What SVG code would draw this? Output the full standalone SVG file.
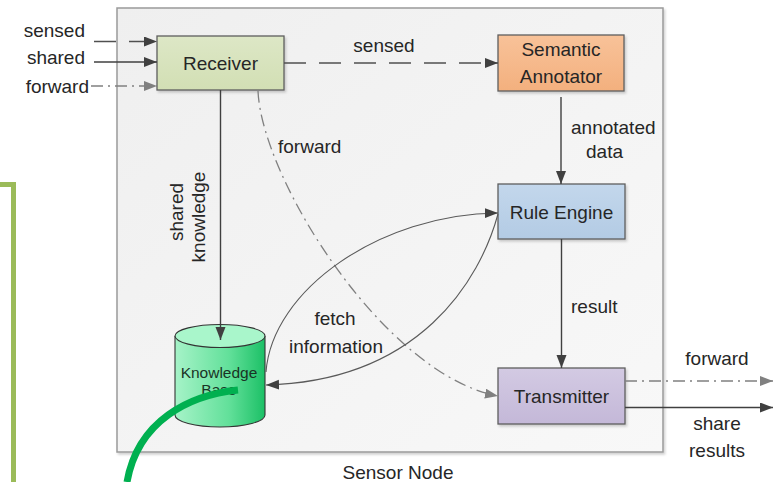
<svg xmlns="http://www.w3.org/2000/svg" width="773" height="482" viewBox="0 0 773 482">
  <defs>
    <style>
      .lbl { font-family: "Liberation Sans", Arial, sans-serif; font-size: 19px; fill: #262626; }
      .box { stroke: #5f5f5f; stroke-width: 1.3; }
      .btxt { font-family: "Liberation Sans", Arial, sans-serif; font-size: 19px; fill: #262626; text-anchor: middle; }
      .solid { fill: none; stroke: #404040; stroke-width: 1.4; }
      .dash { fill: none; stroke: #505050; stroke-width: 1.4; stroke-dasharray: 22 13; }
      .dashdot { fill: none; stroke: #808080; stroke-width: 1.3; stroke-dasharray: 12 5 2 5; }
      .thin { fill: none; stroke: #5a5a5a; stroke-width: 1.1; }
    </style>
    <marker id="arrDark" markerUnits="userSpaceOnUse" markerWidth="14" markerHeight="11" refX="13" refY="5" orient="auto">
      <path d="M0,0 L13,5 L0,10 z" fill="#404040"/>
    </marker>
    <marker id="arrGray" markerUnits="userSpaceOnUse" markerWidth="14" markerHeight="11" refX="13" refY="5" orient="auto">
      <path d="M0,0 L13,5 L0,10 z" fill="#808080"/>
    </marker>
    <linearGradient id="bgGrad" x1="0" y1="0" x2="1" y2="1">
      <stop offset="0" stop-color="#efefef"/>
      <stop offset="1" stop-color="#f8f8f8"/>
    </linearGradient>
    <linearGradient id="recvGrad" x1="0" y1="0" x2="0" y2="1">
      <stop offset="0" stop-color="#dde7c6"/>
      <stop offset="1" stop-color="#d2dfb4"/>
    </linearGradient>
    <linearGradient id="semGrad" x1="0" y1="0" x2="0" y2="1">
      <stop offset="0" stop-color="#f8c299"/>
      <stop offset="1" stop-color="#f3b07e"/>
    </linearGradient>
    <linearGradient id="ruleGrad" x1="0" y1="0" x2="0" y2="1">
      <stop offset="0" stop-color="#c3d7ec"/>
      <stop offset="1" stop-color="#b3cbe4"/>
    </linearGradient>
    <linearGradient id="txGrad" x1="0" y1="0" x2="0" y2="1">
      <stop offset="0" stop-color="#d3cae3"/>
      <stop offset="1" stop-color="#c4b8d8"/>
    </linearGradient>
    <linearGradient id="kbGrad" x1="0" y1="0" x2="1" y2="0">
      <stop offset="0" stop-color="#a6f3c8"/>
      <stop offset="0.6" stop-color="#62e09a"/>
      <stop offset="1" stop-color="#1cc066"/>
    </linearGradient>
    <filter id="shadow" x="-10%" y="-10%" width="130%" height="140%">
      <feDropShadow dx="1.5" dy="2" stdDeviation="1.2" flood-color="#000" flood-opacity="0.18"/>
    </filter>
  </defs>

  <rect width="773" height="482" fill="#ffffff"/>

  <!-- outer frame on the left edge -->
  <polyline points="0,184.5 13.5,184.5 13.5,482" fill="none" stroke="#9bbb59" stroke-width="5"/>

  <!-- sensor node container -->
  <g id="sensor-node">
    <rect x="117" y="8" width="546" height="444" fill="url(#bgGrad)" stroke="#9a9a9a" stroke-width="1.5" filter="url(#shadow)"/>
    <text class="btxt" x="398" y="479">Sensor Node</text>
  </g>

  <!-- nodes -->
  <g id="receiver">
    <rect class="box" x="157" y="36" width="127" height="54" fill="url(#recvGrad)" filter="url(#shadow)"/>
    <text class="btxt" x="220.5" y="70">Receiver</text>
  </g>

  <g id="semantic-annotator">
    <rect class="box" x="498" y="35" width="126" height="56" fill="url(#semGrad)" filter="url(#shadow)"/>
    <text class="btxt" x="561" y="56">Semantic</text>
    <text class="btxt" x="561" y="83">Annotator</text>
  </g>

  <g id="rule-engine">
    <rect class="box" x="498" y="184" width="127" height="55" fill="url(#ruleGrad)" filter="url(#shadow)"/>
    <text class="btxt" x="561.5" y="219">Rule Engine</text>
  </g>

  <g id="transmitter">
    <rect class="box" x="498" y="368" width="127" height="56" fill="url(#txGrad)" filter="url(#shadow)"/>
    <text class="btxt" x="561.5" y="403">Transmitter</text>
  </g>

  <g id="knowledge-base">
    <path d="M175,336 L175,415 A45,12 0 0 0 265,415 L265,336" fill="url(#kbGrad)" stroke="#333333" stroke-width="1.1"/>
    <ellipse cx="220" cy="336" rx="45" ry="11.5" fill="#a9f6cb" stroke="#333333" stroke-width="1.1"/>
    <text x="219" y="378" font-family="'Liberation Sans', Arial, sans-serif" font-size="15.5" fill="#1a3325" text-anchor="middle">Knowledge</text>
    <text x="219" y="395" font-family="'Liberation Sans', Arial, sans-serif" font-size="15.5" fill="#1a3325" text-anchor="middle">Base</text>
  </g>

  <!-- connectors -->
  <g id="connectors">
    <!-- incoming -->
    <line class="dash" x1="94" y1="41.5" x2="157" y2="41.5" stroke-dasharray="18 10" marker-end="url(#arrDark)"/>
    <line class="solid" x1="94" y1="62" x2="157" y2="62" marker-end="url(#arrDark)"/>
    <line class="dashdot" x1="91" y1="86" x2="157" y2="86" marker-end="url(#arrGray)"/>
    <text class="lbl" x="85" y="37" text-anchor="end">sensed</text>
    <text class="lbl" x="85" y="64" text-anchor="end">shared</text>
    <text class="lbl" x="89" y="93" text-anchor="end">forward</text>

    <!-- receiver to semantic annotator -->
    <line class="dash" x1="284" y1="63" x2="498" y2="63" marker-end="url(#arrDark)"/>
    <text class="lbl" x="384" y="52" text-anchor="middle">sensed</text>

    <!-- receiver to knowledge base -->
    <line class="solid" x1="220.5" y1="90" x2="220.5" y2="340" marker-end="url(#arrDark)"/>
    <text class="lbl" transform="translate(183,212) rotate(-90)" text-anchor="middle">shared</text>
    <text class="lbl" transform="translate(205,217) rotate(-90)" text-anchor="middle">knowledge</text>

    <!-- receiver forwards to transmitter -->
    <path class="dashdot" d="M258,91 C262,180 385,375 498,396" marker-end="url(#arrGray)"/>
    <text class="lbl" x="278" y="153">forward</text>

    <!-- semantic annotator to rule engine -->
    <line class="solid" x1="561" y1="97" x2="561" y2="184" marker-end="url(#arrDark)"/>
    <text class="lbl" x="571" y="134">annotated</text>
    <text class="lbl" x="586" y="158">data</text>

    <!-- rule engine and knowledge base -->
    <path class="thin" d="M266,372 C272,290 380,214 498,213" marker-end="url(#arrDark)"/>
    <path class="thin" d="M498,214 C480,280 420,381 266,385" marker-end="url(#arrDark)"/>
    <text class="lbl" x="335" y="325" text-anchor="middle">fetch</text>
    <text class="lbl" x="336" y="353" text-anchor="middle">information</text>

    <!-- rule engine to transmitter -->
    <line class="solid" x1="561.5" y1="239" x2="561.5" y2="368" marker-end="url(#arrDark)"/>
    <text class="lbl" x="571" y="313">result</text>

    <!-- outgoing -->
    <line class="dashdot" x1="625" y1="381" x2="773" y2="381" stroke-dasharray="14 5 2 5" marker-end="url(#arrGray)"/>
    <line class="solid" x1="625" y1="407.5" x2="773" y2="407.5" marker-end="url(#arrDark)"/>
    <text class="lbl" x="717" y="365" text-anchor="middle">forward</text>
    <text class="lbl" x="717" y="430" text-anchor="middle">share</text>
    <text class="lbl" x="717" y="457" text-anchor="middle">results</text>
  </g>

  <!-- green stroke drawn over the knowledge base -->
  <path d="M238,390 C190,395 138,420 127,482" fill="none" stroke="#00b050" stroke-width="7"/>
</svg>
